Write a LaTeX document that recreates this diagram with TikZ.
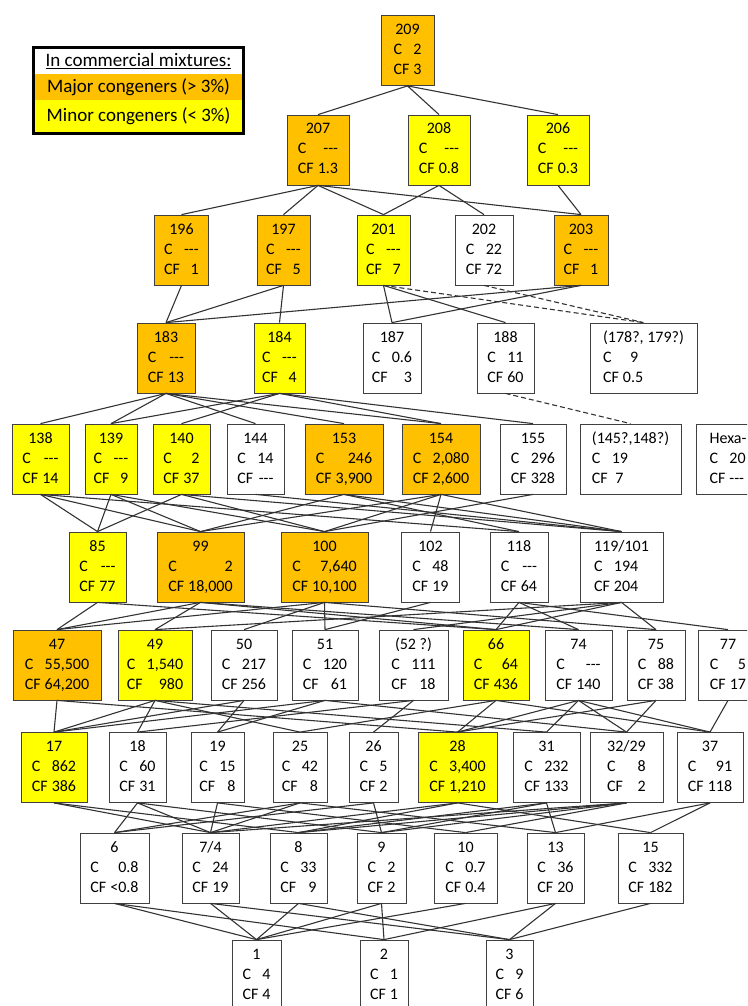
\documentclass[tikz,border=0pt]{standalone}
\usepackage{fontspec}
\setmainfont{Carlito}
\usepackage{array}

\definecolor{majorc}{HTML}{FFC000}
\definecolor{minorc}{HTML}{FFFF00}
\newcommand{\nd}{-{}-{}-}
\newcommand{\pcb}[3]{\begin{tabular}{@{}l@{\hspace{4pt}}r@{}}\multicolumn{2}{@{}c@{}}{#1}\\C&#2\\CF&#3\end{tabular}}
% wide first line: values stay on the left
\newcommand{\pcbw}[3]{\begin{tabular}{@{}l@{\hspace{4pt}}l@{}}\multicolumn{2}{@{}l@{}}{#1}\\C&#2\\CF&#3\end{tabular}}

\begin{document}
\begin{tikzpicture}[x=1pt,y=-1pt,
   box/.style={draw=black!75,line width=0.8pt,inner sep=0pt,minimum height=70,font=\fontsize{16}{20}\selectfont},
   maj/.style={box,fill=majorc},
   mnr/.style={box,fill=minorc},
   lg/.style={inner sep=0pt,minimum width=210,font=\fontsize{19}{22}\selectfont},
   edge/.style={draw=black!80,line width=1.1pt},
   guess/.style={edge,dashed,dash pattern=on 5pt off 3pt}]
   \useasboundingbox (0,0) rectangle (747,1006);
   \clip (0,0) rectangle (747,1006);

   % legend
   \node[lg,fill=white,minimum height=26] (lgtitle) at (138.5,61) {\underline{In commercial mixtures:}};
   \node[lg,fill=majorc,minimum height=26] (lgmajor) at (138.5,87) {Major congeners (> 3\%)};
   \node[lg,fill=minorc,minimum height=33] (lgminor) at (138.5,116.5) {Minor congeners (< 3\%)};
   \draw[line width=3pt] (lgtitle.north west) rectangle (lgminor.south east);

   % deca / nona
   \node[maj,minimum width=53] (c209) at (407.5,50.5) {\pcb{209}{2}{3}};
   \node[maj,minimum width=62] (c207) at (318,150) {\pcb{207}{\nd}{1.3}};
   \node[mnr,minimum width=62] (c208) at (439,150) {\pcb{208}{\nd}{0.8}};
   \node[mnr,minimum width=62] (c206) at (558,150) {\pcb{206}{\nd}{0.3}};
   % octa
   \node[maj,minimum width=54] (c196) at (181.5,250) {\pcb{196}{\nd}{1}};
   \node[maj,minimum width=53] (c197) at (283.5,250) {\pcb{197}{\nd}{5}};
   \node[mnr,minimum width=53] (c201) at (383.5,250) {\pcb{201}{\nd}{7}};
   \node[box,minimum width=58] (c202) at (484,250) {\pcb{202}{22}{72}};
   \node[maj,minimum width=54] (c203) at (581,250) {\pcb{203}{\nd}{1}};
   % hepta
   \node[maj,minimum width=58] (c183) at (166,358) {\pcb{183}{\nd}{13}};
   \node[mnr,minimum width=51] (c184) at (279.5,358) {\pcb{184}{\nd}{4}};
   \node[box,minimum width=58] (c187) at (392,358) {\pcb{187}{0.6}{3}};
   \node[box,minimum width=57] (c188) at (505.5,358) {\pcb{188}{11}{60}};
   \node[box,minimum width=107] (c178) at (643.5,358) {\pcbw{(178?, 179?)}{\ \ 9}{0.5}};
   % hexa
   \node[mnr,minimum width=57] (c138) at (40.5,459) {\pcb{138}{\nd}{14}};
   \node[mnr,minimum width=52] (c139) at (111,459) {\pcb{139}{\nd}{9}};
   \node[mnr,minimum width=57] (c140) at (181.5,459) {\pcb{140}{2}{37}};
   \node[box,minimum width=57] (c144) at (255.5,459) {\pcb{144}{14}{\nd}};
   \node[maj,minimum width=78] (c153) at (344,459) {\pcb{153}{246}{3,900}};
   \node[maj,minimum width=78] (c154) at (441,459) {\pcb{154}{2,080}{2,600}};
   \node[box,minimum width=66] (c155) at (533,459) {\pcb{155}{296}{328}};
   \node[box,minimum width=101] (c145) at (630.5,459) {\pcbw{(145?,148?)}{19}{\ 7}};
   \node[box,minimum width=64] (chexa) at (728,459) {\pcbw{Hexa-}{20}{\nd}};
   % penta
   \node[mnr,minimum width=57] (c85) at (97.5,567) {\pcb{85}{\nd}{77}};
   \node[maj,minimum width=87] (c99) at (200.5,567) {\pcb{99}{2}{18,000}};
   \node[maj,minimum width=87] (c100) at (324.5,567) {\pcb{100}{7,640}{10,100}};
   \node[box,minimum width=58] (c102) at (430.5,567) {\pcb{102}{48}{19}};
   \node[box,minimum width=58] (c118) at (519,567) {\pcb{118}{\nd}{64}};
   \node[box,minimum width=83] (c119x101) at (621.5,567) {\pcbw{119/101}{194}{204}};
   % tetra
   \node[maj,minimum width=88] (c47) at (57,665) {\pcb{47}{55,500}{64,200}};
   \node[mnr,minimum width=74] (c49) at (155,665) {\pcb{49}{1,540}{980}};
   \node[box,minimum width=66] (c50) at (244,665) {\pcb{50}{217}{256}};
   \node[box,minimum width=66] (c51) at (325,665) {\pcb{51}{120}{61}};
   \node[box,minimum width=69] (c52) at (413.5,665) {\pcb{(52 ?)}{111}{18}};
   \node[mnr,minimum width=66] (c66) at (496,665) {\pcb{66}{64}{436}};
   \node[box,minimum width=67] (c74) at (578.5,665) {\pcb{74}{\nd}{140}};
   \node[box,minimum width=58] (c75) at (656,665) {\pcb{75}{88}{38}};
   \node[box,minimum width=60] (c77) at (728,665) {\pcb{77}{5}{17}};
   % tri
   \node[mnr,minimum width=66] (c17) at (54,767.5) {\pcb{17}{862}{386}};
   \node[box,minimum width=57] (c18) at (137.5,767.5) {\pcb{18}{60}{31}};
   \node[box,minimum width=53] (c19) at (217.5,767.5) {\pcb{19}{15}{8}};
   \node[box,minimum width=54] (c25) at (300,767.5) {\pcb{25}{42}{8}};
   \node[box,minimum width=49] (c26) at (373.5,767.5) {\pcb{26}{5}{2}};
   \node[mnr,minimum width=79] (c28) at (457.5,767.5) {\pcb{28}{3,400}{1,210}};
   \node[box,minimum width=67] (c31) at (546.5,767.5) {\pcb{31}{232}{133}};
   \node[box,minimum width=73] (c32x29) at (626.5,767.5) {\pcb{32/29}{8}{2}};
   \node[box,minimum width=66] (c37) at (710,767.5) {\pcb{37}{91}{118}};
   % di
   \node[box,minimum width=69] (c6) at (114.5,868) {\pcb{6}{0.8}{<0.8}};
   \node[box,minimum width=57] (c7x4) at (210.5,868) {\pcb{7/4}{24}{19}};
   \node[box,minimum width=57] (c8) at (298.5,868) {\pcb{8}{33}{9}};
   \node[box,minimum width=49] (c9) at (381.5,868) {\pcb{9}{2}{2}};
   \node[box,minimum width=63] (c10) at (465.5,868) {\pcb{10}{0.7}{0.4}};
   \node[box,minimum width=57] (c13) at (555.5,868) {\pcb{13}{36}{20}};
   \node[box,minimum width=65] (c15) at (650.5,868) {\pcb{15}{332}{182}};
   % mono
   \node[box,minimum width=49] (c1) at (256.5,975) {\pcb{1}{4}{4}};
   \node[box,minimum width=48] (c2) at (384,975) {\pcb{2}{1}{1}};
   \node[box,minimum width=47] (c3) at (509.5,975) {\pcb{3}{9}{6}};

   % dechlorination steps
   \foreach \a/\b in {209/207,209/208,209/206,
         207/196,207/197,207/201,207/203,208/201,208/202,206/203,
         196/183,197/183,197/184,201/187,201/188,203/183,203/187,
         183/138,183/139,183/144,183/153,183/154,184/139,184/140,184/154,184/155,
         138/85,138/99,138/118,139/85,139/99,139/100,140/85,140/100,140/119x101,
         144/119x101,153/99,153/118,153/119x101,154/99,154/100,154/102,154/119x101,155/100,
         85/47,85/66,99/47,99/49,99/66,99/74,100/47,100/50,100/51,100/75,102/51,
         118/66,118/74,118/77,119x101/49,119x101/52,119x101/66,119x101/75,
         47/17,47/28,49/17,49/18,49/25,49/31,50/17,50/19,51/17,51/19,51/32x29,
         52/18,52/26,66/25,66/28,66/37,74/28,74/31,74/32x29,74/37,75/28,75/32x29,77/37,
         17/7x4,17/8,18/6,18/7x4,18/9,19/7x4,19/10,25/6,25/7x4,25/13,26/6,26/9,
         28/7x4,28/8,28/15,31/8,31/9,31/13,32x29/7x4,32x29/8,32x29/9,32x29/10,37/13,37/15,
         6/1,6/2,7x4/1,7x4/3,8/1,8/3,9/1,9/2,10/1,13/2,13/3,15/3}
      \draw[edge] (c\a.south) -- (c\b.north);

   % uncertain steps
   \draw[guess] (c201.south) -- (c178.north);
   \draw[guess] (c202.south) -- (c178.north);
   \draw[guess] (c188.south) -- (c145.north);
\end{tikzpicture}
\end{document}
